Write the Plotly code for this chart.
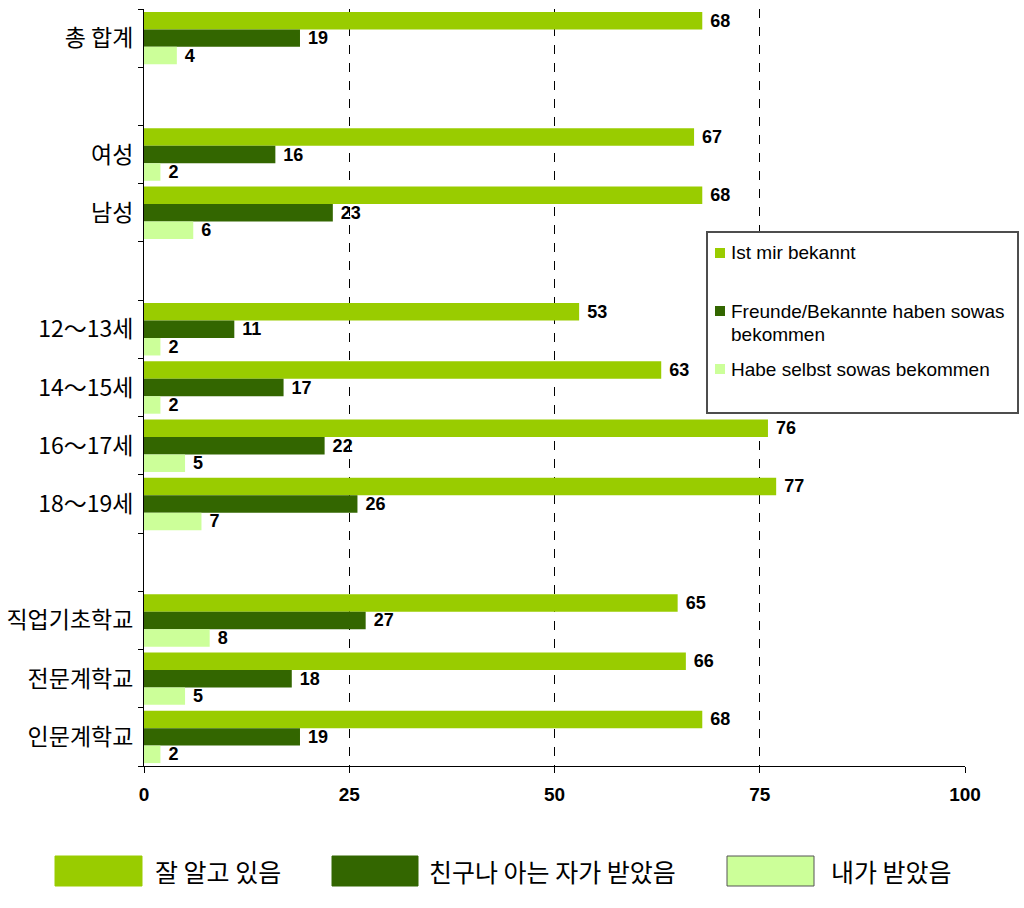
import plotly.graph_objects as go

# ---- data ----
groups = [
    ["총 합계"],
    ["여성", "남성"],
    ["12～13세", "14～15세", "16～17세", "18～19세"],
    ["직업기초학교", "전문계학교", "인문계학교"],
]
series_names = ["잘 알고 있음", "친구나 아는 자가 받았음", "내가 받았음"]
known = [68, 67, 68, 53, 63, 76, 77, 65, 66, 68]
friends = [19, 16, 23, 11, 17, 22, 26, 27, 18, 19]
myself = [4, 2, 6, 2, 2, 5, 7, 8, 5, 2]
x_ticks = [0, 25, 50, 75, 100]
box_texts = ["Ist mir bekannt", "Freunde/Bekannte haben sowas", "bekommen",
             "Habe selbst sowas bekommen"]

colors = ["#99CC00", "#336600", "#CCFF99"]

# slot positions (one empty slot between groups)
labels, pos = [], []
p = 0
for gi, g in enumerate(groups):
    if gi > 0:
        p += 1
    for name in g:
        labels.append(name)
        pos.append(p)
        p += 1
n_slots = p

SANS = "Liberation Sans, Arial, sans-serif"
KR = "Noto Sans CJK KR, Noto Sans CJK SC, sans-serif"

fig = go.Figure()
for name, vals, c in zip(series_names, [known, friends, myself], colors):
    fig.add_trace(go.Bar(
        y=pos, x=vals, orientation="h", name=name,
        marker=dict(color=c, line=dict(width=0)),
        text=vals, texttemplate="\u00a0%{x}", textposition="outside",
        constraintext="none",
        textfont=dict(family=SANS, size=18, color="#000", weight="bold"),
        cliponaxis=False, showlegend=False,
    ))

L, R, T, B = 144, 965, 9, 766
W, H = 1024, 908


def px(x):
    return (x - L) / (R - L)


def py(y):
    return (B - y) / (B - T)


shapes = []
annotations = []

# German legend box
shapes.append(dict(type="rect", xref="paper", yref="paper",
                   x0=px(707), x1=px(1018), y0=py(232), y1=py(413),
                   line=dict(color="#4d4d4d", width=2), fillcolor="white", layer="above"))
sq = [(248, colors[0]), (306, colors[1]), (364, colors[2])]
for y0, c in sq:
    shapes.append(dict(type="rect", xref="paper", yref="paper",
                       x0=px(715), x1=px(725), y0=py(y0), y1=py(y0 + 10),
                       line=dict(width=0), fillcolor=c, layer="above"))
for txt, yc in zip(box_texts, [252, 311, 334, 369]):
    annotations.append(dict(xref="paper", yref="paper", x=px(729), y=py(yc),
                            xanchor="left", yanchor="middle", text=txt, showarrow=False,
                            font=dict(family=SANS, size=19, color="#000")))

# bottom legend
leg = [(55, 142, 153), (332, 418, 427), (727, 814, 829)]
for (x0, x1, tx), name, c in zip(leg, series_names, colors):
    shapes.append(dict(type="rect", xref="paper", yref="paper",
                       x0=px(x0), x1=px(x1), y0=py(856), y1=py(886),
                       line=dict(color="#555555" if c == colors[2] else c, width=1),
                       fillcolor=c))
    annotations.append(dict(xref="paper", yref="paper", x=px(tx), y=py(871),
                            xanchor="left", yanchor="middle", text=name, showarrow=False,
                            font=dict(family=KR, size=25, color="#000")))

fig.update_layout(
    width=W, height=H,
    margin=dict(l=L, r=W - R, t=T, b=H - B, autoexpand=False),
    paper_bgcolor="white", plot_bgcolor="white",
    barmode="group", bargap=0.1, bargroupgap=0,
    shapes=shapes, annotations=annotations,
    xaxis=dict(range=[0, 100], tickmode="array", tickvals=x_ticks,
               ticks="outside", ticklen=6, tickcolor="#000", tickwidth=1,
               showline=True, linecolor="#000", linewidth=1,
               showgrid=True, gridcolor="#000", griddash="dash", gridwidth=1,
               zeroline=False, automargin=False,
               tickfont=dict(family=SANS, size=19, color="#000", weight="bold"),
               ticklabelstandoff=5, fixedrange=True),
    yaxis=dict(range=[n_slots - 0.5, -0.5], tickmode="array", tickvals=pos, ticktext=labels,
               ticks="", showline=True, linecolor="#000", linewidth=1,
               showgrid=False, zeroline=False, automargin=False,
               minor=dict(tickmode="array", tickvals=[i - 0.5 for i in range(n_slots + 1)],
                          ticks="outside", ticklen=5, tickcolor="#000", tickwidth=1,
                          showgrid=False),
               tickfont=dict(family=KR, size=23, color="#000"),
               ticklabelstandoff=5, fixedrange=True),
)

fig.write_html("out.html")
